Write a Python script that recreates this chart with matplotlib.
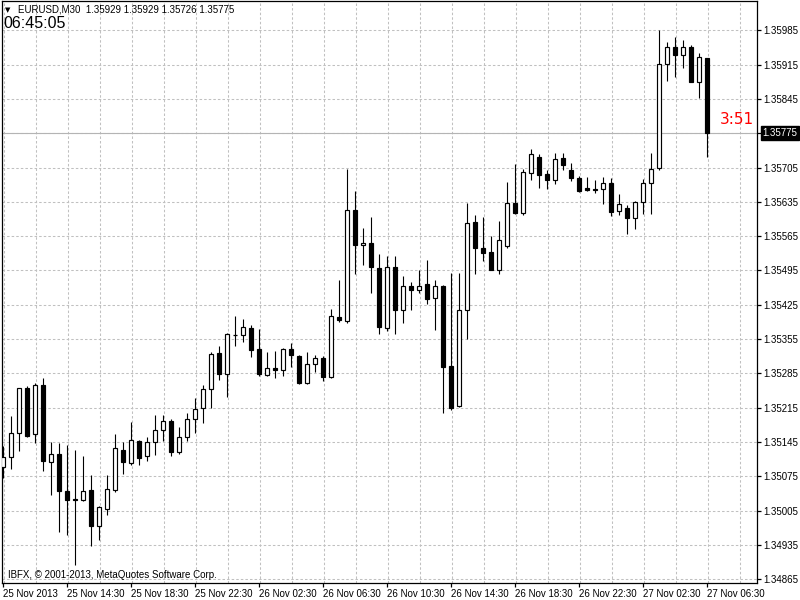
import matplotlib
matplotlib.use('Agg')
import matplotlib.pyplot as plt
from matplotlib.patches import Rectangle

plt.rcParams['font.family'] = ['Liberation Sans', 'DejaVu Sans']

# EURUSD M30 bars, 25 Nov 10:30 .. 27 Nov 06:30
opens = [
	1.35093, 1.35115, 1.35164, 1.35255, 1.35162, 1.35262, 1.35104, 1.35121, 1.35044, 1.35028,
	1.35027, 1.35046, 1.34973, 1.35009, 1.35048, 1.35129, 1.35102, 1.35148, 1.35116, 1.35145,
	1.35170, 1.35187, 1.35125, 1.35155, 1.35192, 1.35215, 1.35253, 1.35327, 1.35284, 1.35364,
	1.35364, 1.35378, 1.35334, 1.35282, 1.35295, 1.35291, 1.35335, 1.35321, 1.35266, 1.35304,
	1.35317, 1.35277, 1.35400, 1.35391, 1.35619, 1.35546, 1.35551, 1.35500, 1.35378, 1.35502,
	1.35414, 1.35464, 1.35456, 1.35468, 1.35439, 1.35464, 1.35301, 1.35218, 1.35414, 1.35593,
	1.35541, 1.35533, 1.35495, 1.35544, 1.35632, 1.35613, 1.35694, 1.35727, 1.35691, 1.35679,
	1.35725, 1.35701, 1.35684, 1.35664, 1.35662, 1.35662, 1.35674, 1.35617, 1.35622, 1.35602,
	1.35635, 1.35674, 1.35704, 1.35917, 1.35951, 1.35934, 1.35951, 1.35879, 1.35929]
highs = [
	1.35136, 1.35199, 1.35256, 1.35259, 1.35266, 1.35276, 1.35145, 1.35143, 1.35138, 1.35129,
	1.35117, 1.35078, 1.35014, 1.35078, 1.35162, 1.35144, 1.35185, 1.35150, 1.35155, 1.35201,
	1.35201, 1.35191, 1.35176, 1.35204, 1.35235, 1.35262, 1.35329, 1.35340, 1.35368, 1.35402,
	1.35395, 1.35383, 1.35376, 1.35328, 1.35330, 1.35337, 1.35346, 1.35323, 1.35328, 1.35323,
	1.35320, 1.35417, 1.35476, 1.35703, 1.35658, 1.35582, 1.35604, 1.35529, 1.35524, 1.35525,
	1.35483, 1.35472, 1.35495, 1.35517, 1.35476, 1.35465, 1.35489, 1.35489, 1.35633, 1.35609,
	1.35604, 1.35566, 1.35595, 1.35676, 1.35713, 1.35703, 1.35742, 1.35732, 1.35701, 1.35734,
	1.35735, 1.35715, 1.35687, 1.35686, 1.35679, 1.35686, 1.35684, 1.35652, 1.35629, 1.35636,
	1.35682, 1.35734, 1.35985, 1.35962, 1.35972, 1.35966, 1.35956, 1.35938, 1.35929]
lows = [
	1.35072, 1.35090, 1.35126, 1.35155, 1.35143, 1.35085, 1.35036, 1.34961, 1.34955, 1.34893,
	1.35024, 1.34932, 1.34944, 1.34995, 1.35043, 1.35080, 1.35097, 1.35097, 1.35106, 1.35119,
	1.35146, 1.35116, 1.35121, 1.35148, 1.35164, 1.35184, 1.35215, 1.35271, 1.35236, 1.35340,
	1.35349, 1.35319, 1.35279, 1.35280, 1.35276, 1.35279, 1.35297, 1.35264, 1.35264, 1.35287,
	1.35269, 1.35275, 1.35389, 1.35387, 1.35487, 1.35506, 1.35448, 1.35366, 1.35371, 1.35366,
	1.35388, 1.35414, 1.35448, 1.35427, 1.35374, 1.35204, 1.35210, 1.35216, 1.35355, 1.35487,
	1.35514, 1.35495, 1.35487, 1.35541, 1.35611, 1.35609, 1.35679, 1.35664, 1.35662, 1.35672,
	1.35701, 1.35677, 1.35655, 1.35657, 1.35653, 1.35631, 1.35606, 1.35609, 1.35570, 1.35580,
	1.35611, 1.35611, 1.35701, 1.35881, 1.35889, 1.35908, 1.35879, 1.35846, 1.35726]
closes = [
	1.35115, 1.35164, 1.35255, 1.35158, 1.35262, 1.35106, 1.35121, 1.35044, 1.35027, 1.35026,
	1.35044, 1.34973, 1.35012, 1.35049, 1.35133, 1.35104, 1.35149, 1.35112, 1.35145, 1.35170,
	1.35187, 1.35124, 1.35155, 1.35192, 1.35213, 1.35253, 1.35325, 1.35284, 1.35366, 1.35364,
	1.35380, 1.35332, 1.35284, 1.35296, 1.35292, 1.35335, 1.35323, 1.35266, 1.35304, 1.35317,
	1.35278, 1.35402, 1.35393, 1.35619, 1.35546, 1.35551, 1.35502, 1.35379, 1.35502, 1.35414,
	1.35464, 1.35455, 1.35464, 1.35437, 1.35464, 1.35297, 1.35215, 1.35414, 1.35592, 1.35540,
	1.35531, 1.35495, 1.35558, 1.35632, 1.35613, 1.35696, 1.35732, 1.35689, 1.35679, 1.35723,
	1.35710, 1.35683, 1.35657, 1.35659, 1.35659, 1.35674, 1.35615, 1.35631, 1.35602, 1.35634,
	1.35674, 1.35702, 1.35917, 1.35951, 1.35934, 1.35951, 1.35879, 1.35931, 1.35775]

time_ticks = [0, 8, 16, 24, 32, 40, 48, 56, 64, 72, 80, 88]
time_labels = ['25 Nov 2013', '25 Nov 14:30', '25 Nov 18:30', '25 Nov 22:30',
	'26 Nov 02:30', '26 Nov 06:30', '26 Nov 10:30', '26 Nov 14:30',
	'26 Nov 18:30', '26 Nov 22:30', '27 Nov 02:30', '27 Nov 06:30']
price_ticks = [1.34865, 1.34935, 1.35005, 1.35075, 1.35145, 1.35215, 1.35285, 1.35355,
	1.35425, 1.35495, 1.35565, 1.35635, 1.35705, 1.35775, 1.35845, 1.35915, 1.35985]
last_price = 1.35775
header = 'EURUSD,M30  1.35929 1.35929 1.35726 1.35775'

fig = plt.figure(figsize=(8, 6), dpi=100)
ax = fig.add_axes([2/800, 17/600, 755/800, 582/600])
ax.set_xlim(-0.125, 94.25)
ax.set_ylim(1.348572, 1.360449)

grid_col = '#c0c0c0'
dash = (0, (2.4, 2.0))
for p in price_ticks:
	ax.axhline(p, color=grid_col, lw=0.75, ls=dash, zorder=0)
for k in range(0, 95, 4):
	ax.axvline(k + 0.125, color=grid_col, lw=0.75, ls=dash, zorder=0)
ax.axhline(last_price, color='#b4b4b4', lw=0.8, zorder=1)

for i in range(len(opens)):
	o, h, l, c = opens[i], highs[i], lows[i], closes[i]
	ax.vlines(i, l, h, color='black', lw=0.8, zorder=2)
	if abs(c - o) < 0.000015:
		ax.hlines(o, i - 0.3, i + 0.3, color='black', lw=0.9, zorder=3)
	else:
		fc = 'white' if c > o else 'black'
		ax.add_patch(Rectangle((i - 0.3, min(o, c)), 0.6, abs(c - o),
			facecolor=fc, edgecolor='black', lw=0.85, zorder=3))

for s in ax.spines.values():
	s.set_color('black')
	s.set_linewidth(0.9)

ax.yaxis.tick_right()
ax.set_yticks(price_ticks)
ax.set_yticklabels(['%.5f' % p for p in price_ticks])
ax.set_xticks(time_ticks)
ax.set_xticklabels(time_labels)
ax.tick_params(axis='both', direction='out', length=3, width=0.9, labelsize=7, pad=1.5)
for lab in ax.get_xticklabels():
	lab.set_ha('left')

ax.annotate('%.5f' % last_price, xy=(1.0, last_price), xycoords=('axes fraction', 'data'),
	xytext=(4, 0), textcoords='offset points', va='center', ha='left', fontsize=7,
	color='white', annotation_clip=False, zorder=10,
	bbox=dict(boxstyle='square,pad=0.2', fc='black', ec='black'))

fig.text(5/800, 1 - 10/600, '\u25bc', fontsize=5, va='center', family='DejaVu Sans')
fig.text(18/800, 1 - 10/600, header, fontsize=7, va='center')
fig.text(3/800, 1 - 24/600, '06:45:05', fontsize=11.5, va='center')
fig.text(720/800, 1 - 119/600, '3:51', fontsize=11, va='center', color='red', family='DejaVu Sans')
fig.text(8/800, 1 - 575/600, 'IBFX, \u00a9 2001-2013, MetaQuotes Software Corp.', fontsize=7, va='center')

fig.savefig('out.png', dpi=100)
